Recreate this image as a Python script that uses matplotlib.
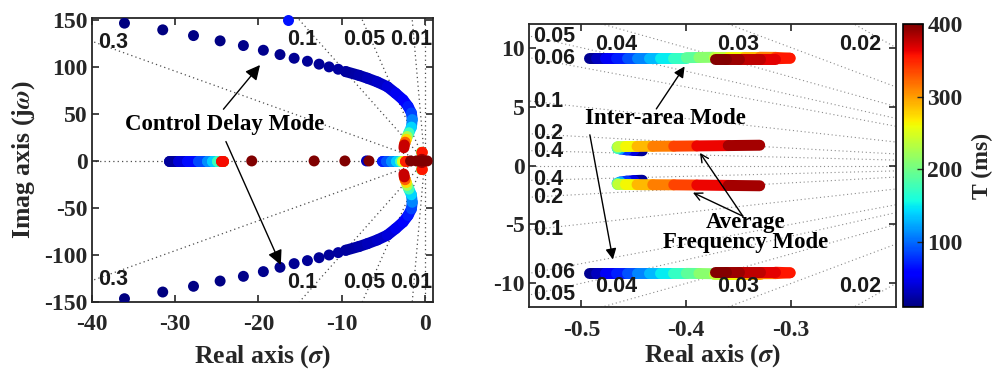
import numpy as np
import matplotlib
matplotlib.use('Agg')
import matplotlib.pyplot as plt
from matplotlib.collections import LineCollection
from matplotlib.colors import Normalize

plt.rcParams['font.family'] = 'serif'
plt.rcParams['font.serif'] = ['Liberation Serif', 'DejaVu Serif']
plt.rcParams['font.weight'] = 'bold'
plt.rcParams['axes.labelweight'] = 'bold'
plt.rcParams['mathtext.fontset'] = 'stix'
plt.rcParams['axes.unicode_minus'] = False

T_MIN, T_MAX = 10, 400

# ---------------- data (upper half; lower half is the complex conjugate) ----------------
# Control delay mode: discrete dots
delay_dot_T = [10, 11, 12, 13, 14, 15, 16, 17, 18, 19, 20, 21, 22]
delay_dot_re = [-36.1, -31.5, -27.8, -24.6, -21.8, -19.4, -17.4, -15.7, -14.1, -12.7, -11.5, -10.4, -9.5]
delay_dot_im = [146.5, 139.4, 133.3, 127.7, 122.7, 117.7, 113.1, 109.2, 106.0, 102.9, 100.0, 97.5, 95.0]
# Control delay mode: continuous part
delay_T = [22, 25, 28, 32, 38, 45, 53, 62, 75, 95, 125, 155, 200, 250, 300, 350, 400]
delay_re = [-9.5, -7.9, -6.9, -5.7, -4.5, -3.5, -2.6, -2.0, -1.6, -1.5, -1.6, -1.9, -2.1, -2.2, -2.35, -2.45, -2.5]
delay_im = [95, 91, 88, 84, 79, 72, 65, 58, 51, 44, 36, 30, 26, 23, 20, 17, 14]
# stray point at the top edge
stray_T = [65]
stray_re = [-16.4]
stray_im = [150]

# real-axis modes
realA_T = [10, 30, 50, 75, 100, 125, 150, 200, 260, 320, 400]
realA_re = [-30.8, -29.7, -28.6, -27.3, -26.2, -25.6, -25.0, -24.4, -24.2, -24.3, -24.5]
realB_T = [60, 80, 100, 125, 150, 200, 300, 400]
realB_re = [-5.1, -4.6, -4.0, -3.5, -3.0, -2.7, -2.4, -2.2]
real_dot_T = [30, 400, 400, 400, 400, 400, 400, 400, 400]
real_dot_re = [-7.0, -20.8, -13.3, -9.6, -6.7, -1.7, -1.0, -0.3, 0.3]

# Inter-area mode
ia_T = [10, 25, 40, 60, 80, 100, 120, 140, 160, 180, 200, 225, 250, 275, 300, 325, 351, 360, 372, 385, 395, 400]
ia_re = [-0.493, -0.486, -0.478, -0.467, -0.457, -0.447, -0.436, -0.425, -0.413, -0.400, -0.388, -0.374,
         -0.360, -0.345, -0.330, -0.315, -0.301, -0.315, -0.330, -0.350, -0.362, -0.373]
ia_im = [9.15, 9.15, 9.15, 9.15, 9.15, 9.15, 9.15, 9.15, 9.15, 9.15, 9.16, 9.18,
         9.18, 9.18, 9.18, 9.17, 9.10, 9.05, 9.05, 9.05, 9.05, 9.05]

# Average frequency mode
af_T = [10, 30, 60, 100, 150, 200, 225, 250, 275, 300, 325, 350, 375, 400]
af_re = [-0.442, -0.450, -0.457, -0.463, -0.466, -0.466, -0.465, -0.458, -0.447, -0.432, -0.412, -0.390, -0.360, -0.330]
af_im = [1.25, 1.28, 1.33, 1.40, 1.50, 1.57, 1.60, 1.61, 1.62, 1.63, 1.64, 1.66, 1.69, 1.72]

# damping-ratio grid
zeta_left = [0.3, 0.1, 0.05, 0.01, 0.0]
zeta_right = [0.02, 0.03, 0.04, 0.05, 0.06, 0.1, 0.2, 0.4]

zl_text = ['0.3', '0.1', '0.05', '0.01']
zl_x = [-37.5, -14.7, -7.3, -1.6]
zl_y = [126, 129, 129, 129]

zr_side_text = ['0.05', '0.06', '0.1', '0.2', '0.4']
zr_side_y = [10.9, 9.1, 5.45, 2.75, 1.2]
zr_top_text = ['0.04', '0.03', '0.02']
zr_top_x = [-0.467, -0.351, -0.234]
zr_top_y = 10.3

cbar_ticks = [100, 200, 300, 400]

# ---------------- drawing ----------------
cmap = plt.get_cmap('jet')
norm = Normalize(T_MIN, T_MAX)
LW = 7.9
TICK_FS = 17
LABEL_FS = 18.5
NOTE_FS = 16.5
ZETA_FS = 15.5


def tracks_segments(tracks):
    segs, vals = [], []
    for T, re, im in tracks:
        for sgn in (1, -1):
            for i in range(len(T) - 1):
                segs.append([(re[i], sgn * im[i]), (re[i + 1], sgn * im[i + 1])])
                vals.append(0.5 * (T[i] + T[i + 1]))
    order = np.argsort(vals, kind='stable')
    return [segs[i] for i in order], np.array(vals)[order]


def draw_tracks(ax, tracks, lw):
    segs, vals = tracks_segments(tracks)
    lc = LineCollection(segs, cmap=cmap, norm=norm, linewidths=lw, capstyle='round', zorder=3)
    lc.set_array(vals)
    ax.add_collection(lc)
    return lc


def zeta_lines(ax, zetas, R, color, lw):
    for z in zetas:
        w = np.sqrt(1 - z ** 2)
        for sgn in (1, -1):
            ax.plot([0, -R * z], [0, sgn * R * w], ls=(0, (1, 2.5)), color=color, lw=lw, zorder=1)
    ax.plot([-R, 0], [0, 0], ls=(0, (1, 2.5)), color=color, lw=lw, zorder=1)


fig = plt.figure(figsize=(9.95, 3.71), dpi=100)
ax1 = fig.add_axes([0.0925, 0.186, 0.3427, 0.7655])
ax2 = fig.add_axes([0.5317, 0.1725, 0.3688, 0.7628])
cax = fig.add_axes([0.9075, 0.1725, 0.0201, 0.7628])

tick_color = '#262626'
for ax in (ax1, ax2):
    ax.tick_params(direction='in', top=True, right=True, labelsize=TICK_FS, colors=tick_color,
                   length=5, width=1.2)
    ax.tick_params(axis='x', pad=9)
    ax.tick_params(axis='y', pad=3)
    for s in ax.spines.values():
        s.set_linewidth(1.3)
        s.set_color('#262626')

# ---- left plot
zeta_lines(ax1, zeta_left, 1000, '0.3', 0.9)
all_tracks = [(delay_T, delay_re, delay_im),
              (realA_T, realA_re, [0] * len(realA_T)),
              (realB_T, realB_re, [0] * len(realB_T)),
              (ia_T, ia_re, ia_im),
              (af_T, af_re, af_im)]
draw_tracks(ax1, all_tracks, LW)
ms = LW ** 2
for sgn in (1, -1):
    ax1.scatter(delay_dot_re, [sgn * v for v in delay_dot_im], c=delay_dot_T, cmap=cmap, norm=norm,
                s=ms, linewidths=0, zorder=3)
ax1.scatter(stray_re, stray_im, c=stray_T, cmap=cmap, norm=norm, s=ms, linewidths=0, zorder=4, clip_on=False)
ax1.scatter(real_dot_re, [0] * len(real_dot_re), c=real_dot_T, cmap=cmap, norm=norm, s=ms,
            linewidths=0, zorder=4)
ax1.set_xlim(-40, 1)
ax1.set_ylim(-150, 152)
ax1.set_xticks([-40, -30, -20, -10, 0])
ax1.set_yticks([-150, -100, -50, 0, 50, 100, 150])
ax1.set_xlabel(r'Real axis ($\sigma$)', fontsize=LABEL_FS, color=tick_color)
ax1.set_ylabel(r'Imag axis (j$\omega$)', fontsize=LABEL_FS, color=tick_color)
ax1.xaxis.set_label_coords(0.5, -0.145)
ax1.yaxis.set_label_coords(-0.162, 0.5)
for t, x, y in zip(zl_text, zl_x, zl_y):
    for sgn in (1, -1):
        ax1.text(x, sgn * y, t, family='Liberation Sans', weight='bold', fontsize=ZETA_FS,
                 ha='center', va='center', color='#1a1a1a', zorder=5)

arrow_big = dict(arrowstyle='-|>', mutation_scale=22, lw=1.0, color='black', shrinkA=0, shrinkB=0)
ax1.text(-24.1, 38.3, 'Control Delay Mode', fontsize=NOTE_FS, ha='center', va='center', zorder=6)
ax1.annotate('', xy=(-19.8, 102), xytext=(-24.2, 55), arrowprops=arrow_big, zorder=6)
ax1.annotate('', xy=(-17.3, -110.6), xytext=(-23.9, 20.6), arrowprops=arrow_big, zorder=6)

# ---- right plot
zeta_lines(ax2, zeta_right, 60, '0.55', 0.8)
lc = draw_tracks(ax2, [(ia_T, ia_re, ia_im), (af_T, af_re, af_im)], LW)
ax2.set_xlim(-0.55, -0.2)
ax2.set_ylim(-12, 12)
ax2.set_xticks([-0.5, -0.4, -0.3])
ax2.set_xticklabels(['-0.5', '-0.4', '-0.3'])
ax2.set_yticks([-10, -5, 0, 5, 10])
ax2.set_xlabel(r'Real axis ($\sigma$)', fontsize=LABEL_FS, color=tick_color)
ax2.xaxis.set_label_coords(0.5, -0.125)
for t, y in zip(zr_side_text, zr_side_y):
    for sgn in (1, -1):
        ax2.text(-0.546, sgn * y, t, family='Liberation Sans', weight='bold', fontsize=ZETA_FS,
                 ha='left', va='center', color='#1a1a1a', zorder=5)
for t, x in zip(zr_top_text, zr_top_x):
    for sgn in (1, -1):
        ax2.text(x, sgn * zr_top_y, t, family='Liberation Sans', weight='bold', fontsize=ZETA_FS,
                 ha='center', va='center', color='#1a1a1a', zorder=5)

arrow_mid = dict(arrowstyle='-|>', mutation_scale=16, lw=1.0, color='black', shrinkA=0, shrinkB=0)
arrow_small = dict(arrowstyle='->', mutation_scale=14, lw=1.0, color='black', shrinkA=0, shrinkB=0)
ax2.text(-0.42, 4.0, 'Inter-area Mode', fontsize=NOTE_FS, ha='center', va='center', zorder=6)
ax2.annotate('', xy=(-0.4016, 8.4), xytext=(-0.4286, 4.8), arrowprops=arrow_mid, zorder=6)
ax2.annotate('', xy=(-0.470, -7.97), xytext=(-0.492, 2.6), arrowprops=arrow_mid, zorder=6)
ax2.text(-0.343, -5.7, 'Average\nFrequency Mode', fontsize=NOTE_FS, ha='center', va='center',
         linespacing=0.95, zorder=6)
ax2.annotate('', xy=(-0.387, 1.07), xytext=(-0.346, -4.3), arrowprops=arrow_small, zorder=6)
ax2.annotate('', xy=(-0.3937, -2.3), xytext=(-0.346, -4.3), arrowprops=arrow_small, zorder=6)

# ---- colorbar
cb = fig.colorbar(lc, cax=cax, ticks=cbar_ticks)
cb.ax.tick_params(direction='in', labelsize=TICK_FS, colors=tick_color, length=4, width=1.0, pad=3)
cb.outline.set_linewidth(1.2)
cb.set_label('T (ms)', fontsize=LABEL_FS - 1.5, color=tick_color, labelpad=7)

fig.savefig('out.png', dpi=100)
